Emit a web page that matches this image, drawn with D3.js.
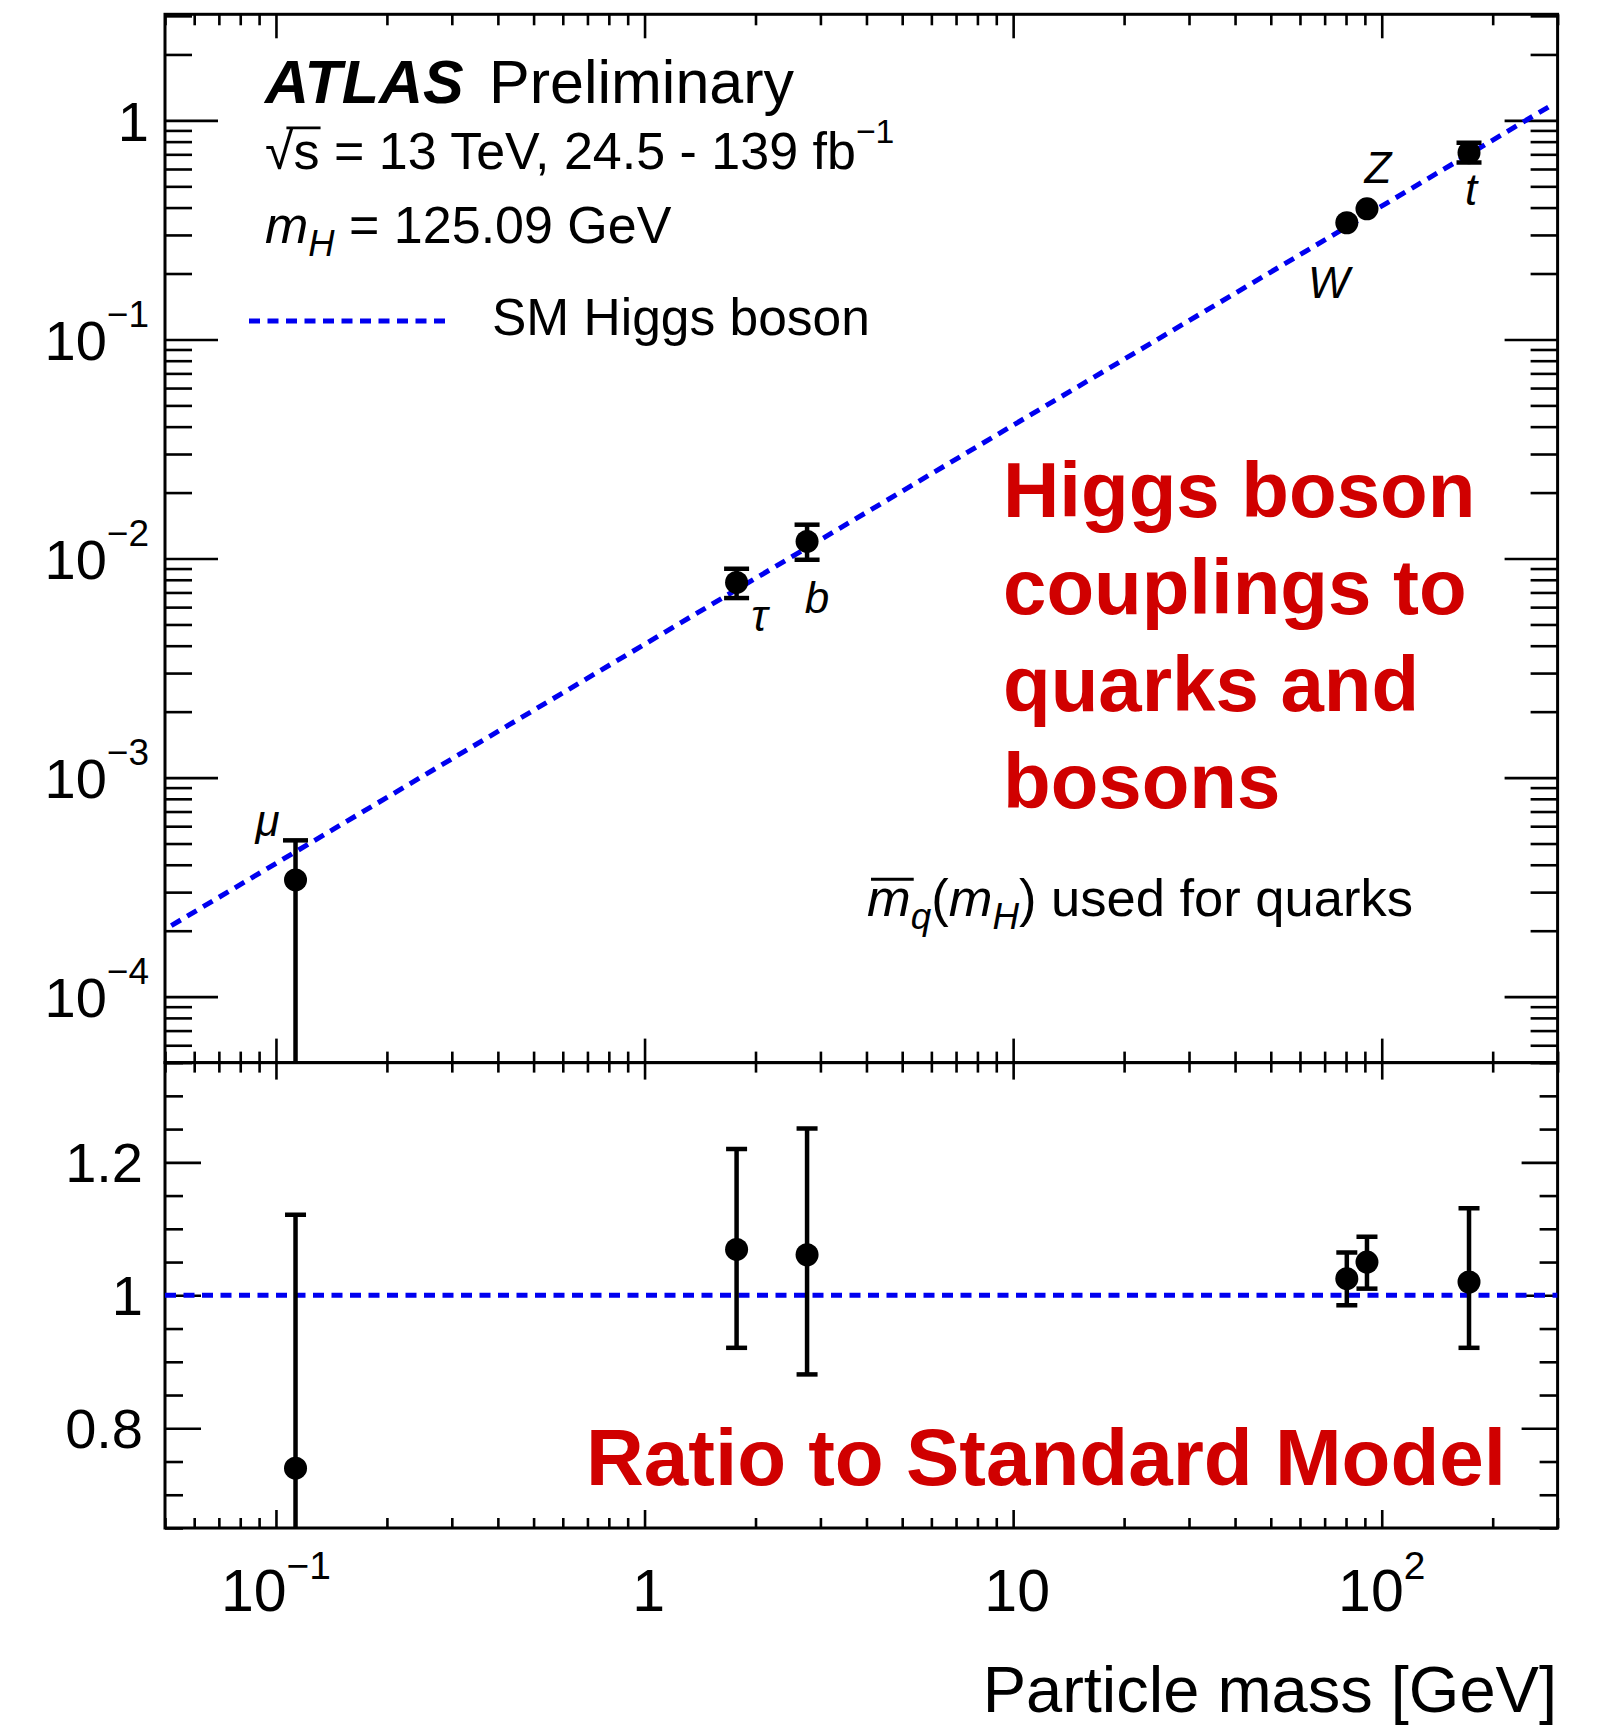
<!DOCTYPE html>
<html><head><meta charset="utf-8">
<script src="https://cdn.jsdelivr.net/npm/d3@7"></script>
<style>body{margin:0;background:#fff} svg{display:block}</style>
</head><body>
<svg id="c" width="1604" height="1725"></svg>
<script>
// ---------------- data ----------------
const particles  = ["μ", "τ", "b", "W", "Z", "t"];
const masses     = [0.113, 1.777, 2.76, 80.4, 91.19, 172.5];
const coupling   = [3.41e-4, 7.78e-3, 1.197e-2, 0.341, 0.395, 0.712];
const couplingLo = [1e-6, 6.6e-3, 9.87e-3, 0.328, 0.380, 0.643];
const couplingHi = [5.17e-4, 8.98e-3, 1.427e-2, 0.354, 0.409, 0.790];
const ratio      = [0.74, 1.069, 1.061, 1.025, 1.050, 1.020];
const ratioLo    = [0.30, 0.921, 0.881, 0.985, 1.010, 0.921];
const ratioHi    = [1.121, 1.220, 1.251, 1.0645, 1.088, 1.131];
const smLineX    = [0.052, 285];
const smLineY    = [2.11e-4, 1.158];
const ratioLineX = [0.05, 300];
const ratioLineY = [1, 1];
const xTickValues = [0.1, 1, 10, 100];
const xTickLabels = [["10", "−1"], ["1", ""], ["10", ""], ["10", "2"]];
const yTopTickValues = [1e-4, 1e-3, 1e-2, 1e-1, 1];
const yTopTickLabels = [["10", "−4"], ["10", "−3"], ["10", "−2"], ["10", "−1"], ["1", ""]];
const yBotTickValues = [0.8, 1.0, 1.2];
const yBotTickLabels = ["0.8", "1", "1.2"];
// label placement (pixels relative to the marker)
const labelOffsets = [[-28, -44], [23, 49], [10, 72], [-18, 75], [11, -26], [2, 52]];

// ---------------- layout ----------------
const FONT = '"Liberation Sans", Arial, Helvetica, sans-serif';
const L = 165, R = 1557.6, T = 14.3, M = 1062.6, B = 1528;
const RED = "#d00000", BLUE = "#0000f0";
const svg = d3.select("#c");
svg.append("rect").attr("width", 1604).attr("height", 1725).attr("fill", "#fff");

const x  = d3.scaleLog().domain([0.05, 300]).range([L, R]);
const yT = d3.scaleLog().domain([5e-5, 3.05]).range([M, T]);
const yB = d3.scaleLinear().domain([0.65, 1.35]).range([B, M]);

const defs = svg.append("defs");
defs.append("clipPath").attr("id", "clipTop").append("rect")
  .attr("x", L).attr("y", T).attr("width", R - L).attr("height", M - T);
defs.append("clipPath").attr("id", "clipBot").append("rect")
  .attr("x", L).attr("y", M).attr("width", R - L).attr("height", B - M);

function addText(g, px, py, parts, opts) {
  const t = g.append("text").attr("x", px).attr("y", py)
    .attr("font-family", FONT).attr("font-size", opts.size)
    .attr("fill", opts.fill || "#000")
    .attr("text-anchor", opts.anchor || "start");
  if (opts.bold) t.attr("font-weight", "bold");
  let cur = 0;
  parts.forEach(p => {
    if (p.t === "") return;
    const s = t.append("tspan").text(p.t);
    if (p.scale) s.attr("font-size", opts.size * p.scale);
    const shift = (p.shift || 0) * opts.size;
    const dy = cur - shift;
    if (dy !== 0) s.attr("dy", dy);
    cur = shift;
    if (p.italic) s.attr("font-style", "italic");
    if (p.bold) s.attr("font-weight", "bold");
    if (p.dx) s.attr("dx", p.dx * opts.size);
  });
  return t;
}

function tickAxis(axisFn, scale, values, size, transform) {
  const a = axisFn(scale).tickValues(values).tickSize(size).tickSizeOuter(0).tickFormat("");
  const gg = svg.append("g").attr("transform", transform).call(a);
  gg.select(".domain").remove();
  gg.selectAll(".tick line").attr("stroke", "#000").attr("stroke-width", 2.6);
}

const isMajorX = v => xTickValues.some(m => Math.abs(Math.log10(v) - Math.log10(m)) < 1e-6);
const xAll = x.ticks();
const xMinor = xAll.filter(v => !isMajorX(v));
const yTAll = yT.ticks();
const yTMinor = yTAll.filter(v => !yTopTickValues.some(m => Math.abs(Math.log10(v) - Math.log10(m)) < 1e-6));
const yBAll = yB.ticks(14);
const yBMinor = yBAll.filter(v => !yBotTickValues.some(m => Math.abs(v - m) < 1e-6));

// ---- top panel ticks
tickAxis(d3.axisBottom, x, xMinor, -11, `translate(0,${M})`);
tickAxis(d3.axisBottom, x, xTickValues, -24, `translate(0,${M})`);
tickAxis(d3.axisBottom, x, xMinor, 11, `translate(0,${T})`);
tickAxis(d3.axisBottom, x, xTickValues, 24, `translate(0,${T})`);
tickAxis(d3.axisRight, yT, yTMinor, 27, `translate(${L},0)`);
tickAxis(d3.axisRight, yT, yTopTickValues, 53, `translate(${L},0)`);
tickAxis(d3.axisLeft, yT, yTMinor, 27, `translate(${R},0)`);
tickAxis(d3.axisLeft, yT, yTopTickValues, 53, `translate(${R},0)`);
// ---- bottom panel ticks
tickAxis(d3.axisBottom, x, xMinor, 10, `translate(0,${M})`);
tickAxis(d3.axisBottom, x, xTickValues, 17, `translate(0,${M})`);
tickAxis(d3.axisBottom, x, xMinor, -10, `translate(0,${B})`);
tickAxis(d3.axisBottom, x, xTickValues, -18, `translate(0,${B})`);
tickAxis(d3.axisRight, yB, yBMinor, 18, `translate(${L},0)`);
tickAxis(d3.axisRight, yB, yBotTickValues, 36, `translate(${L},0)`);
tickAxis(d3.axisLeft, yB, yBMinor, 18, `translate(${R},0)`);
tickAxis(d3.axisLeft, yB, yBotTickValues, 36, `translate(${R},0)`);

// frames
svg.append("rect").attr("x", L).attr("y", T).attr("width", R - L).attr("height", M - T)
  .attr("fill", "none").attr("stroke", "#000").attr("stroke-width", 3);
svg.append("rect").attr("x", L).attr("y", M).attr("width", R - L).attr("height", B - M)
  .attr("fill", "none").attr("stroke", "#000").attr("stroke-width", 3);

// ---- tick labels
const labG = svg.append("g");
yTopTickValues.forEach((v, i) => {
  const [base, sup] = yTopTickLabels[i];
  addText(labG, 149, yT(v) + 0.36 * 56, [{t: base}, {t: sup, scale: 0.66, shift: 0.58}], {size: 56, anchor: "end"});
});
yBotTickValues.forEach((v, i) => {
  addText(labG, 143, yB(v) + 0.36 * 56, [{t: yBotTickLabels[i]}], {size: 56, anchor: "end"});
});
xTickValues.forEach((v, i) => {
  const [base, sup] = xTickLabels[i];
  addText(labG, x(v) + (sup ? 0 : 4), 1611, [{t: base}, {t: sup, scale: 0.66, shift: 0.55}], {size: 59, anchor: "middle"});
});
addText(labG, 1557, 1712, [{t: "Particle mass [GeV]"}], {size: 65, anchor: "end"});

// ---- top panel content
const topG = svg.append("g").attr("clip-path", "url(#clipTop)");
const smLine = d3.line().x(d => x(d[0])).y(d => yT(d[1]));
topG.append("path").attr("d", smLine(smLineX.map((v, i) => [v, smLineY[i]])))
  .attr("fill", "none").attr("stroke", BLUE).attr("stroke-width", 5).attr("stroke-dasharray", "11 7.5");

const RM = 11.5;
function drawPoints(g, ys, lo, hi, yScale, capW) {
  masses.forEach((m, i) => {
    const px = x(m), py = yScale(ys[i]), pLo = yScale(lo[i]), pHi = yScale(hi[i]);
    g.append("line").attr("x1", px).attr("x2", px).attr("y1", pLo).attr("y2", pHi)
      .attr("stroke", "#000").attr("stroke-width", 4.5);
    [pLo, pHi].forEach(pc => {
      if (Math.abs(pc - py) > 0.6 * RM) {
        g.append("line").attr("x1", px - capW / 2).attr("x2", px + capW / 2).attr("y1", pc).attr("y2", pc)
          .attr("stroke", "#000").attr("stroke-width", 4.5);
      }
    });
  });
  g.selectAll("circle.m").data(masses).enter().append("circle")
    .attr("cx", d => x(d)).attr("cy", (d, i) => yScale(ys[i])).attr("r", RM).attr("fill", "#000");
}
drawPoints(topG, coupling, couplingLo, couplingHi, yT, 25);

// particle labels
particles.forEach((p, i) => {
  addText(svg, x(masses[i]) + labelOffsets[i][0], yT(coupling[i]) + labelOffsets[i][1],
    [{t: p, italic: true}], {size: 44, anchor: "middle"});
});

// ---- bottom panel content
const botG = svg.append("g").attr("clip-path", "url(#clipBot)");
botG.append("path").attr("d", d3.line().x(d => x(d[0])).y(d => yB(d[1]))(ratioLineX.map((v, i) => [v, ratioLineY[i]])))
  .attr("fill", "none").attr("stroke", BLUE).attr("stroke-width", 5).attr("stroke-dasharray", "11 7.5");
drawPoints(botG, ratio, ratioLo, ratioHi, yB, 21);

// ---- annotation texts
const ann = svg.append("g");
addText(ann, 265, 103, [{t: "ATLAS", bold: true, italic: true}], {size: 61});
addText(ann, 489, 103, [{t: "Preliminary"}], {size: 61});
const sq = addText(ann, 265, 169, [{t: "√"}, {t: "s = 13 TeV, 24.5 - 139 fb"}, {t: "−1", scale: 0.65, shift: 0.5}], {size: 52});
{
  const n = sq.node();
  const e0 = n.getExtentOfChar(0), e1 = n.getExtentOfChar(1);
  ann.append("line").attr("x1", e0.x + e0.width * 0.75).attr("x2", e1.x + e1.width + 1)
    .attr("y1", 169 - 0.79 * 52).attr("y2", 169 - 0.79 * 52).attr("stroke", "#000").attr("stroke-width", 2.8);
}
addText(ann, 265, 243, [{t: "m", italic: true}, {t: "H", italic: true, scale: 0.7, shift: -0.25}, {t: " = 125.09 GeV"}], {size: 52});

// legend
ann.append("line").attr("x1", 249).attr("x2", 449).attr("y1", 321).attr("y2", 321)
  .attr("stroke", BLUE).attr("stroke-width", 5).attr("stroke-dasharray", "11 7.5");
addText(ann, 492, 335, [{t: "SM Higgs boson"}], {size: 51.5});

// red annotation
["Higgs boson", "couplings to", "quarks and", "bosons"].forEach((s, i) => {
  addText(ann, 1003, 517 + i * 97, [{t: s}], {size: 78, bold: true, fill: RED});
});
addText(ann, 586, 1485, [{t: "Ratio to Standard Model"}], {size: 80, bold: true, fill: RED});

// m-bar note
const mq = addText(ann, 867, 916, [{t: "m", italic: true}, {t: "q", italic: true, scale: 0.7, shift: -0.25},
  {t: "("}, {t: "m", italic: true}, {t: "H", italic: true, scale: 0.7, shift: -0.25}, {t: ") used for quarks"}], {size: 52.5});
{
  const e0 = mq.node().getExtentOfChar(0);
  ann.append("line").attr("x1", e0.x + 4).attr("x2", e0.x + e0.width + 3)
    .attr("y1", 916 - 0.7 * 52.5).attr("y2", 916 - 0.7 * 52.5).attr("stroke", "#000").attr("stroke-width", 3);
}
</script>
</body></html>
